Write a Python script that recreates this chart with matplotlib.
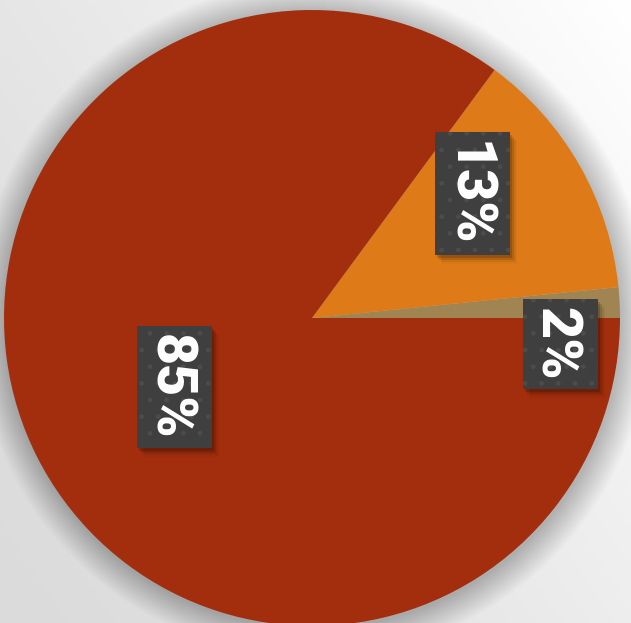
import numpy as np
import matplotlib
matplotlib.use("Agg")
import matplotlib.pyplot as plt
from matplotlib.patches import Circle, Rectangle

# ---- data ----
categories = ["Other", "Second", "Main"]
values = [1.6, 13.3, 85.1]
labels = ["2%", "13%", "85%"]
colors = ["#A08451", "#DE7B18", "#A32E0E"]

# ---- layout ----
W, H = 631, 623
fig = plt.figure(figsize=(W / 100, H / 100), dpi=100)
ax = fig.add_axes([0, 0, 1, 1])

# background gradient
xx, yy = np.meshgrid(np.linspace(0, 1, 200), np.linspace(0, 1, 200))
g = np.clip(0.6 * xx + 0.4 * yy, 0, 1)
g = g ** 1.3
bg = 219 + (255 - 219) * g
img = np.dstack([bg, bg, bg]) / 255.0
ax.imshow(img, extent=(0, W, H, 0), origin="upper", zorder=0, aspect="auto")

cx, cy, R = 312, H - 318, 308

# soft shadow around pie
for k in range(1, 31):
    ax.add_patch(Circle((cx + 1, cy - 2), R + k, fc="black", ec="none",
                        alpha=0.006, zorder=1))

wedges, _ = ax.pie(values, colors=colors, startangle=0, counterclock=True,
                   center=(cx, cy), radius=R, frame=True,
                   wedgeprops=dict(linewidth=0, zorder=2))
ax.set_xlim(0, W)
ax.set_ylim(0, H)
ax.set_aspect("equal")
ax.axis("off")

# label placement (angle deg, distance as fraction of radius)
label_pos = [(-6.0, 0.81), (37.8, 0.66), (206.6, 0.50)]

kw = dict(rotation=-90, ha="center", va="center", fontsize=40,
          fontweight="heavy", family=["Roboto", "Liberation Sans"],
          rotation_mode="anchor")
texts = []
for lab, (ang, d) in zip(labels, label_pos):
    x = cx + d * R * np.cos(np.radians(ang))
    y = cy + d * R * np.sin(np.radians(ang))
    texts.append(ax.text(x, y, lab, color="white", zorder=5, **kw))

fig.canvas.draw()
renderer = fig.canvas.get_renderer()
inv = ax.transData.inverted()
padx, pady = 11, 8.5
for t in texts:
    ext = t.get_window_extent(renderer)
    (x0, y0), (x1, y1) = inv.transform([(ext.x0 - padx, ext.y0 - pady),
                                        (ext.x1 + padx, ext.y1 + pady)])
    # blurred drop shadow
    for ox, oy, a in [(2, -3, 0.16), (4, -5, 0.11), (6, -7, 0.06), (7, -9, 0.03)]:
        ax.add_patch(Rectangle((x0 + ox, y0 + oy), x1 - x0, y1 - y0,
                               fc="black", ec="none", alpha=a, zorder=3))
    ax.add_patch(Rectangle((x0, y0), x1 - x0, y1 - y0, fc="#3F3F3F",
                           ec="#4C4C4C", lw=0, hatch=".", zorder=4))
    # centre the glyphs (not the descender space) inside the box
    tx, ty = t.get_position()
    t.set_position((tx - 5, ty))

fig.savefig("out.png", dpi=100)
